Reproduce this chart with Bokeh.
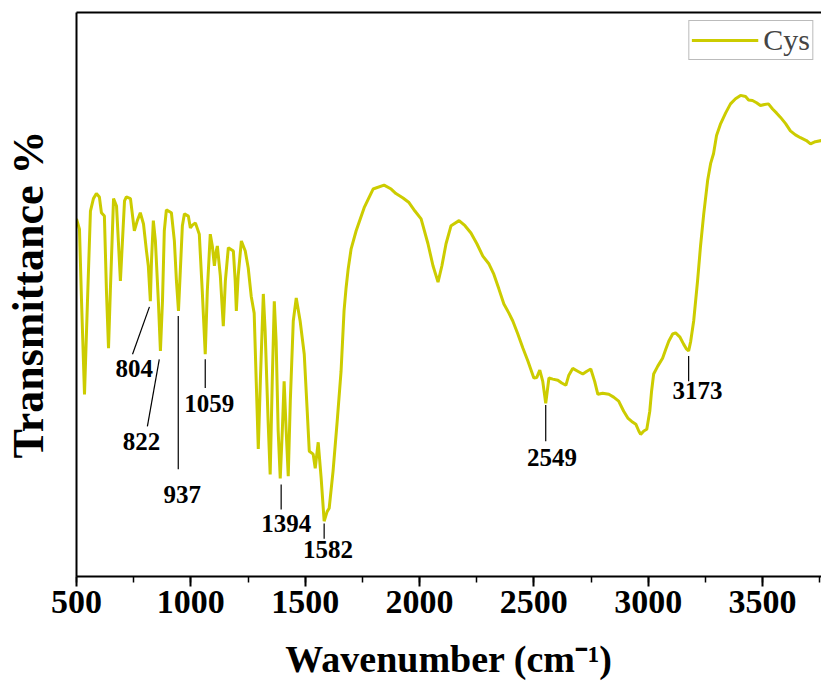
from bokeh.plotting import figure
from bokeh.models import (ColumnDataSource, LinearAxis, SingleIntervalTicker, FixedTicker,
                          Range1d, Legend, LegendItem)
from bokeh.core.properties import value
from bokeh.embed import file_html
from bokeh.resources import INLINE

# ---- data ----
wavenumber = [500, 513, 522, 535, 548, 561, 574, 587, 600, 609, 622, 631, 640, 648, 662, 675, 683, 692,
              701, 710, 718, 736, 753, 766, 779, 793, 806, 814, 823, 828, 836, 845, 858, 867, 876, 884,
              893, 915, 928, 937, 946, 954, 963, 972, 989, 998, 1007, 1020, 1037, 1050, 1063, 1072, 1085,
              1094, 1103, 1111, 1116, 1129, 1142, 1151, 1164, 1186, 1194, 1199, 1207, 1221, 1238, 1251,
              1264, 1273, 1277, 1286, 1295, 1304, 1317, 1325, 1338, 1347, 1356, 1365, 1373, 1382, 1391,
              1400, 1408, 1417, 1426, 1435, 1448, 1461, 1478, 1496, 1509, 1518, 1535, 1544, 1557, 1570,
              1583, 1596, 1605, 1622, 1640, 1657, 1670, 1679, 1688, 1701, 1723, 1758, 1797, 1845, 1876,
              1897, 1928, 1954, 1980, 2007, 2037, 2059, 2081, 2098, 2116, 2138, 2173, 2199, 2225, 2251,
              2277, 2304, 2325, 2347, 2369, 2391, 2408, 2430, 2452, 2474, 2500, 2513, 2526, 2539, 2552,
              2566, 2583, 2605, 2622, 2640, 2653, 2670, 2692, 2714, 2732, 2749, 2766, 2780, 2801, 2828,
              2849, 2871, 2893, 2911, 2928, 2946, 2959, 2967, 2981, 2994, 3007, 3015, 3024, 3042, 3063,
              3077, 3090, 3107, 3120, 3138, 3155, 3168, 3177, 3186, 3199, 3216, 3229, 3243, 3260, 3273,
              3286, 3299, 3317, 3339, 3360, 3382, 3404, 3426, 3439, 3456, 3474, 3491, 3509, 3526, 3544,
              3561, 3579, 3601, 3622, 3644, 3666, 3692, 3710, 3731, 3758]
transmittance = [63.4, 61.6, 48.8, 32.3, 48.8, 64.8, 67.0, 67.9, 67.3, 64.5, 63.9, 50.6, 40.5, 50.6, 67.0,
                 65.7, 59.5, 52.4, 59.5, 66.6, 67.3, 67.0, 61.3, 63.1, 64.5, 62.5, 57.7, 55.1, 48.8, 56.0,
                 63.1, 59.5, 48.8, 40.0, 48.8, 61.3, 65.0, 64.5, 59.5, 52.4, 47.1, 54.2, 62.2, 64.3, 63.9,
                 61.8, 62.3, 62.7, 60.7, 50.6, 39.4, 50.6, 60.7, 58.6, 55.1, 57.7, 58.6, 53.3, 44.4, 52.4,
                 58.3, 57.7, 52.4, 47.1, 53.3, 59.5, 57.7, 54.7, 49.7, 47.6, 46.7, 34.6, 22.6, 34.6, 50.1,
                 43.5, 27.5, 18.1, 34.6, 48.8, 41.7, 25.8, 17.4, 25.8, 34.6, 25.8, 17.8, 31.1, 45.3, 49.4,
                 45.3, 39.4, 29.3, 22.2, 21.7, 19.2, 23.8, 17.4, 9.8, 11.5, 12.1, 18.7, 27.5, 36.4, 47.1,
                 51.2, 54.5, 58.1, 61.3, 65.4, 68.7, 69.4, 68.7, 67.9, 67.1, 66.3, 64.8, 63.4, 59.0, 55.1,
                 52.2, 55.1, 59.0, 62.2, 63.1, 62.2, 60.9, 59.0, 56.8, 55.4, 53.6, 51.0, 48.3, 46.7, 45.3,
                 43.0, 40.5, 38.2, 35.2, 35.3, 36.6, 34.6, 30.7, 35.2, 35.0, 34.8, 34.3, 33.9, 35.7, 36.9,
                 36.4, 35.9, 36.4, 36.8, 34.6, 32.3, 32.5, 32.3, 31.8, 31.1, 29.3, 28.1, 27.5, 27.0, 25.8,
                 25.2, 25.8, 26.1, 29.3, 32.9, 35.9, 37.3, 38.7, 40.3, 41.7, 43.0, 43.2, 42.5, 41.2, 40.3,
                 40.0, 41.7, 45.3, 52.4, 58.6, 64.3, 70.2, 73.2, 75.0, 78.2, 80.3, 82.2, 83.8, 84.7, 85.3,
                 85.1, 84.5, 84.4, 84.0, 83.5, 83.7, 83.8, 82.9, 82.2, 81.4, 80.3, 79.0, 78.3, 77.8, 77.3,
                 76.7, 77.1, 77.3]

# peak annotations: label text, label anchor, leader line ends
peak_labels = ["804", "822", "937", "1059", "1394", "1582", "2549", "3173"]
label_x = [753, 784, 963, 1081, 1417, 1600, 2579, 3216]
label_y = [36.8, 24.0, 14.6, 30.6, 9.4, 4.8, 21.1, 33.0]
lead_x0 = [819, 862, 945, 1063, 1395, 1583, 2552, 3177]
lead_y0 = [47.8, 38.5, 46.2, 38.5, 16.3, 9.4, 30.4, 39.1]
lead_x1 = [745, 810, 945, 1063, 1395, 1583, 2552, 3177]
lead_y1 = [39.4, 26.6, 19.0, 33.4, 11.9, 6.7, 24.0, 34.6]

series_name = "Cys"
x_ticks_interval = 500

FONT = "Liberation Serif"
CURVE = "#CCCC00"

p = figure(width=821, height=687, output_backend="svg", toolbar_location=None,
           x_range=Range1d(500, 3758), y_range=Range1d(0, 100),
           min_border_left=75, min_border_right=0, min_border_top=12, min_border_bottom=111)
p.outline_line_color = None
p.grid.visible = False
p.background_fill_color = "white"
p.border_fill_color = "white"

r = p.line(wavenumber, transmittance, line_color=CURVE, line_width=3)

src = ColumnDataSource(dict(x0=lead_x0, y0=lead_y0, x1=lead_x1, y1=lead_y1))
p.segment("x0", "y0", "x1", "y1", source=src, line_color="black", line_width=1.2)
tsrc = ColumnDataSource(dict(x=label_x, y=label_y, t=peak_labels))
p.text("x", "y", text="t", source=tsrc, text_font=value(FONT), text_font_style="bold",
       text_font_size="25px", text_align="center", text_baseline="middle", text_color="black")

# x axis
xa = p.xaxis[0]
xa.ticker = SingleIntervalTicker(interval=x_ticks_interval, num_minor_ticks=2)
xa.axis_label = "Wavenumber (cm\u207b\u00b9)"
xa.axis_label_text_font = FONT
xa.axis_label_text_font_style = "bold"
xa.axis_label_text_font_size = "38px"
xa.axis_label_text_color = "black"
xa.axis_label_standoff = 22
xa.major_label_text_font = FONT
xa.major_label_text_font_style = "bold"
xa.major_label_text_font_size = "34px"
xa.major_label_text_color = "black"
xa.major_label_standoff = 4
xa.axis_line_width = 2
xa.major_tick_line_width = 2
xa.minor_tick_line_width = 1.5
xa.major_tick_out = 10
xa.major_tick_in = 0
xa.minor_tick_out = 6
xa.minor_tick_in = 0

# y axis (no ticks)
ya = p.yaxis[0]
ya.ticker = FixedTicker(ticks=[])
ya.axis_label = "Transmittance %"
ya.axis_label_text_font = FONT
ya.axis_label_text_font_style = "bold"
ya.axis_label_text_font_size = "44px"
ya.axis_label_text_color = "black"
ya.axis_label_standoff = 24
ya.axis_line_width = 2
ya.major_tick_line_color = None
ya.minor_tick_line_color = None
ya.major_label_text_font_size = "0px"

# top frame line
top = LinearAxis(ticker=FixedTicker(ticks=[]), major_label_text_font_size="0px",
                 major_tick_line_color=None, minor_tick_line_color=None, axis_line_width=2)
p.add_layout(top, "above")

legend = Legend(items=[LegendItem(label=series_name, renderers=[r])], location="top_right",
                label_text_font=FONT, label_text_font_size="30px", label_standoff=5,
                glyph_width=67, padding=2, margin=8, border_line_color="#777777",
                border_line_width=1.5, background_fill_alpha=1.0, spacing=0)
p.add_layout(legend)

open("out.html", "w").write(file_html(p, INLINE))
